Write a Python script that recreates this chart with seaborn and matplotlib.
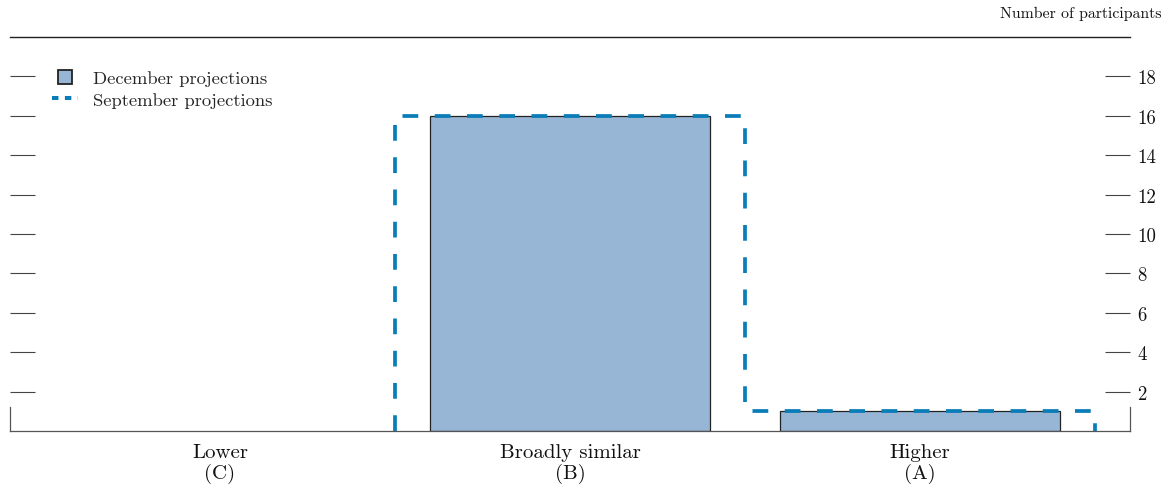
import matplotlib
matplotlib.use("Agg")
import matplotlib.pyplot as plt
from matplotlib.lines import Line2D
import seaborn as sns
import pandas as pd

# data
categories = ["Lower\n(C)", "Broadly similar\n(B)", "Higher\n(A)"]
december = [0, 16, 1]
september = [0, 16, 1]
yticks = [2, 4, 6, 8, 10, 12, 14, 16, 18]

BAR = "#97b6d6"
DASH = "#0a7db8"

sns.set_theme(style="white")
plt.rcParams["font.family"] = ["cmr10", "DejaVu Serif"]
plt.rcParams["axes.formatter.use_mathtext"] = True
plt.rcParams["mathtext.fontset"] = "cm"

fig = plt.figure(figsize=(11.72, 4.89), dpi=100)
ax = fig.add_axes([10 / 1172, 1 - 432 / 489, 1120 / 1172, 394 / 489])

df = pd.DataFrame({"cat": categories, "dec": december})
sns.barplot(data=df, x="cat", y="dec", order=categories, color=BAR,
            saturation=1, edgecolor="#222222", linewidth=0.9, width=0.8, ax=ax)
for p in ax.patches:
    if p.get_height() == 0:
        p.set_linewidth(0)

# september outline as a step path over the category edges
i0 = next(i for i, v in enumerate(september) if v > 0)
xs, ys = [i0 - 0.5], [0]
for i in range(i0, len(september)):
    xs += [i - 0.5, i + 0.5]
    ys += [september[i], september[i]]
xs.append(len(september) - 0.5)
ys.append(0)
ax.plot(xs, ys, color=DASH, linewidth=2.7, dashes=(4.2, 4.4), zorder=3,
        clip_on=False)

ax.set_xlim(-0.6, 2.6)
ax.set_ylim(0, 20)
ax.set_xlabel("")
ax.set_ylabel("")

ax.set_yticks(yticks)
ax.set_yticklabels([str(t) for t in yticks])
ax.tick_params(axis="y", which="both", direction="in", length=18, width=0.8,
               color="#444444", left=True, right=True, labelleft=False,
               labelright=True, labelsize=13.5, pad=5, labelcolor="#111111")
ax.tick_params(axis="x", length=0, labelsize=15, pad=9, labelcolor="#111111")
for lab in ax.get_xticklabels():
    lab.set_linespacing(1.12)

for s in ["left", "right", "bottom"]:
    ax.spines[s].set_color("#555555")
    ax.spines[s].set_linewidth(0.9)
ax.spines["top"].set_color("#222222")
ax.spines["top"].set_linewidth(1.0)
ax.spines["left"].set_bounds(0, 1.2)
ax.spines["right"].set_bounds(0, 1.2)

handles = [
    Line2D([], [], marker="s", markersize=10, markerfacecolor=BAR,
           markeredgecolor="#222222", markeredgewidth=1.3, linestyle="none"),
    Line2D([], [], color=DASH, linewidth=2.9, dashes=(1.6, 1.6)),
]
ax.legend(handles, ["December projections", "September projections"],
          loc="upper left", bbox_to_anchor=(0.031, 0.935), frameon=False,
          fontsize=13.4, handlelength=1.4, handletextpad=0.8, labelspacing=0.3,
          borderaxespad=0)

fig.text(1162 / 1172, 1 - 14 / 489, "Number of participants", ha="right",
         va="center", fontsize=11.4, color="#111111")

fig.savefig("out.png", dpi=100)
